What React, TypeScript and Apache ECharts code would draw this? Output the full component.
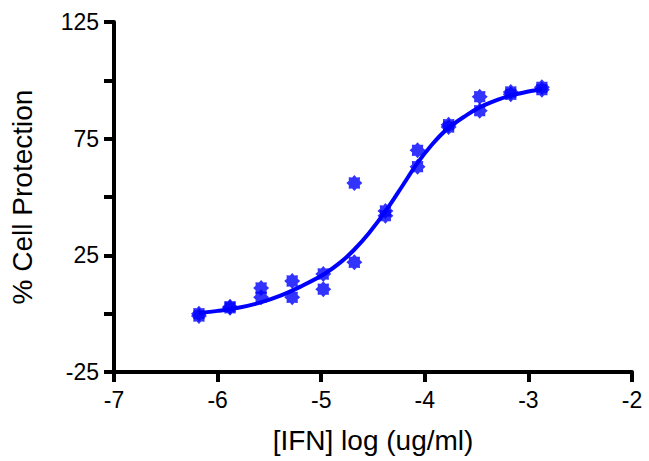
import React, { useEffect, useRef } from "react";
import * as echarts from "echarts";

// Concentrations (log ug/ml)
const logConc = [-6.18, -5.88, -5.58, -5.28, -4.98, -4.68, -4.38, -4.07, -3.77, -3.47, -3.17, -2.87];
// Replicate measurements (% cell protection)
const rep1 = [0, 3, 11, 14, 17, 56, 44, 70, 81, 93, 95, 97];
const rep2 = [-1, 2.5, 7, 7, 10.5, 22, 42, 63, 80, 87, 94, 96];

// Fitted curve
const curveX = [-6.18, -6.0, -5.8, -5.6, -5.4, -5.2, -4.97, -4.8, -4.68, -4.54, -4.37, -4.22, -4.08, -3.93, -3.78, -3.6, -3.47, -3.3, -3.17, -3.0, -2.87];
const curveY = [0.3, 1.2, 2.5, 4.6, 7.6, 11.6, 17, 22.5, 27.5, 34.5, 44.5, 54.5, 64, 72.5, 79.3, 85, 88.4, 91.6, 93.5, 95.2, 96.3];

// Labelled y values
const yLabelValues = [-25, 25, 75, 125];

const BLUE = "#0000ff";
const FONT = "Liberation Sans, Arial, Helvetica, sans-serif";

function starPath(): string {
  const pts: string[] = [];
  const n = 16;
  for (let i = 0; i < n; i++) {
    const a = (i / n) * Math.PI * 2 - Math.PI / 2;
    const r = i % 2 === 0 ? 100 : 74;
    const x = 100 + r * Math.cos(a);
    const y = 100 + r * Math.sin(a);
    pts.push((i === 0 ? "M" : "L") + x.toFixed(1) + " " + y.toFixed(1));
  }
  return "path://" + pts.join(" ") + " Z";
}

export default function App() {
  const ref = useRef<HTMLDivElement>(null);
  useEffect(() => {
    if (!ref.current) return;
    const chart = echarts.init(ref.current, undefined, { renderer: "svg" });
    const sym = starPath();
    chart.setOption({
      animation: false,
      color: [BLUE, BLUE, BLUE],
      grid: { left: 110, right: 17, top: 22, bottom: 89 },
      xAxis: {
        type: "value",
        min: -7,
        max: -2,
        interval: 1,
        name: "[IFN] log (ug/ml)",
        nameLocation: "middle",
        nameGap: 54,
        nameTextStyle: { fontSize: 28, color: "#000", fontFamily: FONT },
        axisLine: { show: true, onZero: false, lineStyle: { color: "#000", width: 4 } },
        axisTick: { show: true, length: 10, lineStyle: { color: "#000", width: 4 } },
        axisLabel: { fontSize: 23, color: "#000", fontFamily: FONT, margin: 16 },
        splitLine: { show: false },
      },
      yAxis: {
        type: "value",
        min: -25,
        max: 125,
        interval: 25,
        name: "% Cell Protection",
        nameLocation: "middle",
        nameGap: 78,
        nameTextStyle: { fontSize: 28, color: "#000", fontFamily: FONT },
        axisLine: { show: true, onZero: false, lineStyle: { color: "#000", width: 4 } },
        axisTick: { show: true, length: 10, lineStyle: { color: "#000", width: 4 } },
        axisLabel: {
          fontSize: 23,
          color: "#000",
          fontFamily: FONT,
          margin: 15,
          formatter: (v: number) => (yLabelValues.indexOf(v) >= 0 ? String(v) : ""),
        },
        splitLine: { show: false },
      },
      series: [
        {
          type: "line",
          data: curveX.map((x, i) => [x, curveY[i]]),
          smooth: 0.35,
          showSymbol: false,
          symbol: "none",
          lineStyle: { width: 4 },
        },
        {
          type: "scatter",
          data: logConc.map((x, i) => [x, rep1[i]]),
          symbol: sym,
          symbolSize: 16,
        },
        {
          type: "scatter",
          data: logConc.map((x, i) => [x, rep2[i]]),
          symbol: sym,
          symbolSize: 16,
        },
      ],
    });
    return () => chart.dispose();
  }, []);
  return (
    <div
      ref={ref}
      style={{ position: "fixed", left: 0, top: 0, width: 649, height: 461, background: "#fff" }}
    />
  );
}
